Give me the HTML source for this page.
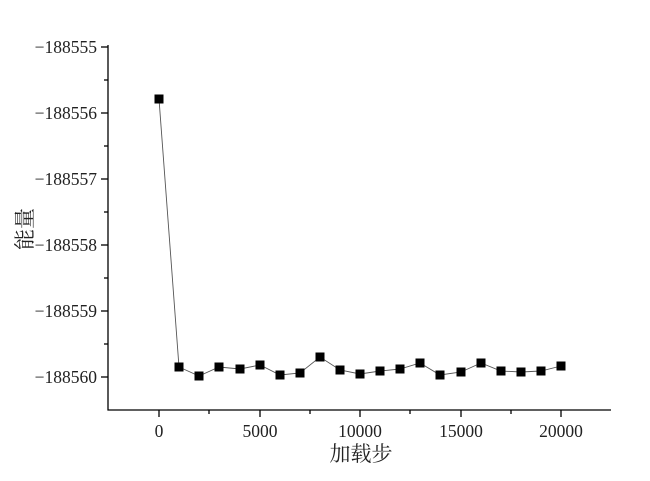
<!DOCTYPE html>
<html><head><meta charset="utf-8"><style>body{margin:0;background:#fff}</style></head><body>
<svg width="650" height="476" xmlns="http://www.w3.org/2000/svg" font-family="Liberation Serif, 'Noto Serif CJK SC', serif">
<g stroke="#000" stroke-width="1.3" fill="none">
<line x1="108" y1="45" x2="108" y2="410.5"/>
<line x1="107.5" y1="410" x2="611" y2="410"/>
<line x1="101" y1="47" x2="108" y2="47"/><line x1="104" y1="80" x2="108" y2="80"/>
<line x1="101" y1="113" x2="108" y2="113"/><line x1="104" y1="146" x2="108" y2="146"/>
<line x1="101" y1="179" x2="108" y2="179"/><line x1="104" y1="212" x2="108" y2="212"/>
<line x1="101" y1="245" x2="108" y2="245"/><line x1="104" y1="278" x2="108" y2="278"/>
<line x1="101" y1="311" x2="108" y2="311"/><line x1="104" y1="344" x2="108" y2="344"/>
<line x1="101" y1="377" x2="108" y2="377"/>
<line x1="159" y1="410" x2="159" y2="417"/><line x1="209" y1="410" x2="209" y2="414"/>
<line x1="260" y1="410" x2="260" y2="417"/><line x1="310" y1="410" x2="310" y2="414"/>
<line x1="360" y1="410" x2="360" y2="417"/><line x1="410" y1="410" x2="410" y2="414"/>
<line x1="461" y1="410" x2="461" y2="417"/><line x1="511" y1="410" x2="511" y2="414"/>
<line x1="561" y1="410" x2="561" y2="417"/>
</g>
<g font-size="17.5" fill="#222" text-anchor="end">
<text x="97" y="53">−188555</text><text x="97" y="119">−188556</text>
<text x="97" y="185">−188557</text><text x="97" y="251">−188558</text>
<text x="97" y="317">−188559</text><text x="97" y="383">−188560</text>
</g>
<g font-size="17.5" fill="#222" text-anchor="middle">
<text x="159" y="437">0</text><text x="260" y="437">5000</text>
<text x="360" y="437">10000</text><text x="461" y="437">15000</text><text x="561" y="437">20000</text>
<text x="361" y="461" font-size="21">加载步</text>
</g>
<text transform="translate(32,229) rotate(-90)" font-size="21" text-anchor="middle" fill="#222">能量</text>
<polyline fill="none" stroke="#555" stroke-width="0.9" points="159,99 179,367 199,376 219,367 240,369 260,365 280,375 300,373 320,357 340,370 360,374 380,371 400,369 420,363 440,375 461,372 481,363 501,371 521,372 541,371 561,366"/>
<g fill="#000">
<rect x="154.5" y="94.5" width="9" height="9"/><rect x="174.5" y="362.5" width="9" height="9"/><rect x="194.5" y="371.5" width="9" height="9"/><rect x="214.5" y="362.5" width="9" height="9"/><rect x="235.5" y="364.5" width="9" height="9"/><rect x="255.5" y="360.5" width="9" height="9"/><rect x="275.5" y="370.5" width="9" height="9"/><rect x="295.5" y="368.5" width="9" height="9"/><rect x="315.5" y="352.5" width="9" height="9"/><rect x="335.5" y="365.5" width="9" height="9"/><rect x="355.5" y="369.5" width="9" height="9"/><rect x="375.5" y="366.5" width="9" height="9"/><rect x="395.5" y="364.5" width="9" height="9"/><rect x="415.5" y="358.5" width="9" height="9"/><rect x="435.5" y="370.5" width="9" height="9"/><rect x="456.5" y="367.5" width="9" height="9"/><rect x="476.5" y="358.5" width="9" height="9"/><rect x="496.5" y="366.5" width="9" height="9"/><rect x="516.5" y="367.5" width="9" height="9"/><rect x="536.5" y="366.5" width="9" height="9"/><rect x="556.5" y="361.5" width="9" height="9"/>
</g>
</svg>
</body></html>
